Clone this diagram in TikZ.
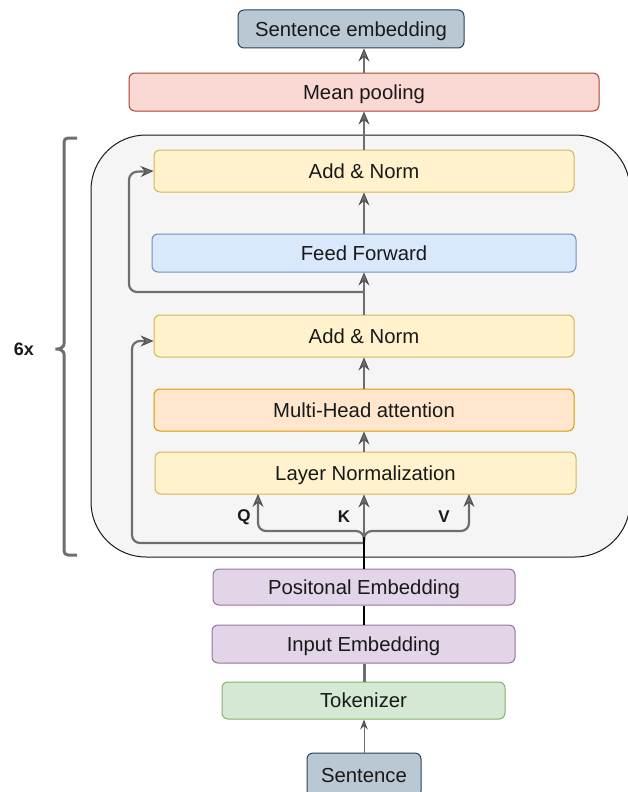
\documentclass[tikz,border=0pt]{standalone}
\usepackage{fontspec}
\setmainfont{Liberation Sans}
\usetikzlibrary{arrows.meta,calc}

\definecolor{seFill}{HTML}{BAC8D3}\definecolor{seDraw}{HTML}{23445D}
\definecolor{mpFill}{HTML}{FAD9D5}\definecolor{mpDraw}{HTML}{AE4132}
\definecolor{ylFill}{HTML}{FFF2CC}\definecolor{ylDraw}{HTML}{D6B656}
\definecolor{blFill}{HTML}{DAE8FC}\definecolor{blDraw}{HTML}{6C8EBF}
\definecolor{orFill}{HTML}{FFE6CC}\definecolor{orDraw}{HTML}{D79B00}
\definecolor{puFill}{HTML}{E1D5E7}\definecolor{puDraw}{HTML}{9673A6}
\definecolor{grFill}{HTML}{D5E8D4}\definecolor{grDraw}{HTML}{82B366}
\definecolor{encFill}{HTML}{F5F5F5}
\definecolor{wire}{HTML}{6E6E6E}
\definecolor{tipc}{HTML}{4D4D4D}

\tikzset{
  box/.style={rectangle, rounded corners=6pt, line width=1pt, inner sep=0pt,
    font=\fontsize{20.3}{24}\selectfont, text=black!90,
    text height=14.5pt, text depth=0pt},
  encoder/.style={rectangle, rounded corners=55pt, line width=1pt, draw=black!90,
    fill=encFill, inner sep=0pt},
  arr/.style={draw=wire, line width=2.2pt,
    -{Stealth[length=13pt,width=11pt,inset=4.5pt,line width=0.9pt,fill=wire,color=tipc]}},
  thinarr/.style={draw=wire, line width=1pt,
    -{Stealth[length=10pt,width=7.5pt,inset=3.5pt,fill=wire,color=tipc]}},
  plainwire/.style={draw=black, line width=2.2pt},
  lbl/.style={font=\bfseries\fontsize{17}{20}\selectfont, text=black!90},
  bracestyle/.style={draw=wire, line width=3pt, rounded corners=4pt}
}

\begin{document}
\begin{tikzpicture}[x=1pt,y=-1pt]
\useasboundingbox (0,0) rectangle (628,792);

% encoder block (repeated stack)
\node[encoder, minimum width=539pt, minimum height=422pt] (enc) at (360.5,346) {};

% boxes
\node[box, fill=seFill, draw=seDraw, minimum width=226pt, minimum height=38pt] (se) at (351,29) {Sentence embedding};
\node[box, fill=mpFill, draw=mpDraw, minimum width=470pt, minimum height=38pt] (mp) at (364,92) {Mean pooling};
\node[box, fill=ylFill, draw=ylDraw, minimum width=420pt, minimum height=42pt] (an1) at (364,171) {Add \& Norm};
\node[box, fill=blFill, draw=blDraw, minimum width=424pt, minimum height=38pt] (ff) at (364,253) {Feed Forward};
\node[box, fill=ylFill, draw=ylDraw, minimum width=420pt, minimum height=42pt] (an2) at (364,336) {Add \& Norm};
\node[box, fill=orFill, draw=orDraw, minimum width=420pt, minimum height=42pt] (mha) at (364,410) {Multi-Head attention};
\node[box, fill=ylFill, draw=ylDraw, minimum width=421pt, minimum height=42pt] (ln) at (365.5,473) {Layer Normalization};
\node[box, fill=puFill, draw=puDraw, minimum width=302pt, minimum height=36pt] (pe) at (364,587) {Positonal Embedding};
\node[box, fill=puFill, draw=puDraw, minimum width=303pt, minimum height=38pt] (ie) at (363.5,644) {Input Embedding};
\node[box, fill=grFill, draw=grDraw, minimum width=283pt, minimum height=37pt] (tok) at (363.5,700.5) {Tokenizer};
\node[box, fill=seFill, draw=seDraw, minimum width=114pt, minimum height=44pt] (sent) at (364,775) {Sentence};

% labels
\node[lbl] (q) at (244,517) {Q};
\node[lbl] (k) at (344,517) {K};
\node[lbl] (v) at (444,517) {V};
\node[lbl, font=\bfseries\fontsize{18}{20}\selectfont] (rep) at (24,349) {6x};

% helper points on the main axis
\coordinate (axis) at (364,0);
\coordinate (split) at (364,541);
\coordinate (res1) at (364,543);
\coordinate (res2) at (364,292);

% input path
\draw[thinarr] (sent.north -| axis) -- (tok.south -| axis);
\draw[draw=wire, line width=3pt] (tok.north -| axis) -- (ie.south -| axis);
\draw[plainwire] (ie.north -| axis) -- (pe.south -| axis);

% Q, K, V branches and first residual
\draw[arr, rounded corners=8pt] (split) -- (364,531) -- (258,531) -- (258,494);
\draw[arr, rounded corners=8pt] (split) -- (364,531) -- (469,531) -- (469,494);
\draw[arr] (split) -- (ln.south -| axis);
\draw[arr, rounded corners=8pt] (res1) -- (132,543) -- (132,341) -- ($(an2.west)+(0,5)$);
\draw[plainwire] (pe.north -| axis) -- (364,537);

% stack flow
\draw[arr] (ln.north -| axis) -- (mha.south -| axis);
\draw[arr] (mha.north -| axis) -- (an2.south -| axis);
\draw[arr] (an2.north -| axis) -- (ff.south -| axis);
\draw[arr, rounded corners=8pt] (res2) -- (129,292) -- (129,172) -- (an1.west);
\draw[arr] (ff.north -| axis) -- (an1.south -| axis);
\draw[arr] (an1.north -| axis) -- (mp.south -| axis);
\draw[arr] (mp.north -| axis) -- (se.south -| axis);

% repetition brace
\draw[bracestyle] (77,138) -- (64,138) -- (64,340)
  .. controls (64,347) and (60,349) .. (53,349)
  .. controls (60,349) and (64,351) .. (64,358) -- (64,555) -- (77,555);
\end{tikzpicture}
\end{document}
